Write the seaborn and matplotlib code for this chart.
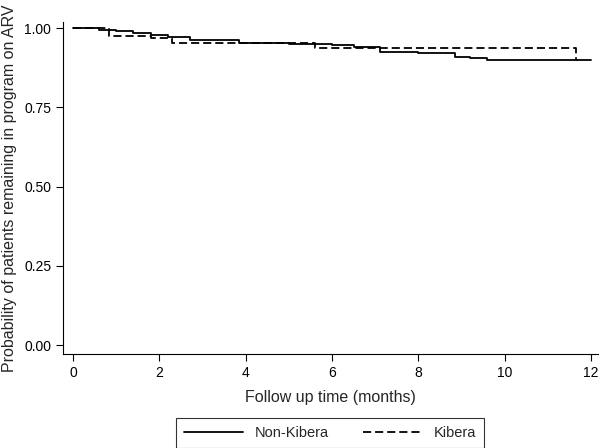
import pandas as pd
import matplotlib
matplotlib.use('Agg')
import matplotlib.pyplot as plt
import seaborn as sns

sns.set_style('ticks')
plt.rcParams['font.family'] = ['Liberation Sans', 'DejaVu Sans']

# Kaplan-Meier steps
non_kibera_t = [0, 0.6, 1.0, 1.4, 1.8, 2.2, 2.7, 3.85, 5.0, 6.0, 6.5, 7.1, 8.0, 8.85, 9.2, 9.6, 12.0]
non_kibera_p = [1.0, 0.995, 0.99, 0.985, 0.978, 0.972, 0.962, 0.953, 0.95, 0.945, 0.94, 0.925, 0.921, 0.909, 0.905, 0.899, 0.899]

kibera_t = [0, 0.84, 1.8, 2.3, 5.6, 11.65, 11.7]
kibera_p = [1.0, 0.975, 0.97, 0.953, 0.937, 0.899, 0.899]

groups = ['Non-Kibera', 'Kibera']

df = pd.concat([
    pd.DataFrame({'t': non_kibera_t, 'p': non_kibera_p, 'group': groups[0]}),
    pd.DataFrame({'t': kibera_t, 'p': kibera_p, 'group': groups[1]}),
])

fig = plt.figure(figsize=(6, 4.48), dpi=100)
ax = fig.add_axes([63 / 600, 1 - 354 / 448, 535 / 600, 332 / 448])

sns.lineplot(data=df, x='t', y='p', hue='group', style='group', hue_order=groups,
             style_order=groups, palette=['black', 'black'],
             dashes={'Non-Kibera': '', 'Kibera': (4.5, 2.2)},
             estimator=None, drawstyle='steps-post', linewidth=1.3, ax=ax)

handles, labels = ax.get_legend_handles_labels()
ax.get_legend().remove()

ax.set_xlim(-0.23, 12.16)
ax.set_ylim(-0.028, 1.019)
ax.set_xticks(range(0, 13, 2))
ax.set_yticks([0, 0.25, 0.5, 0.75, 1.0])
ax.set_yticklabels(['0.00', '0.25', '0.50', '0.75', '1.00'])
ax.tick_params(direction='out', length=5, width=0.8, labelsize=10, colors='black')
sns.despine(ax=ax)
for s in ['left', 'bottom']:
    ax.spines[s].set_color('black')
    ax.spines[s].set_linewidth(0.8)

ax.set_xlabel('Follow up time (months)', fontsize=11.5, labelpad=7)
ax.set_ylabel('Probability of patients remaining in program on ARV', fontsize=11.5, labelpad=5)

leg = fig.legend(handles, labels, loc='upper center', bbox_to_anchor=(330 / 600, 1 - 418 / 448),
                 ncol=2, frameon=True, fancybox=False, edgecolor='black', fontsize=10.5,
                 handlelength=4.0, handletextpad=0.85, columnspacing=2.3,
                 borderpad=0.55, borderaxespad=0)
leg.get_frame().set_linewidth(0.8)

fig.savefig('out.png', dpi=100)
